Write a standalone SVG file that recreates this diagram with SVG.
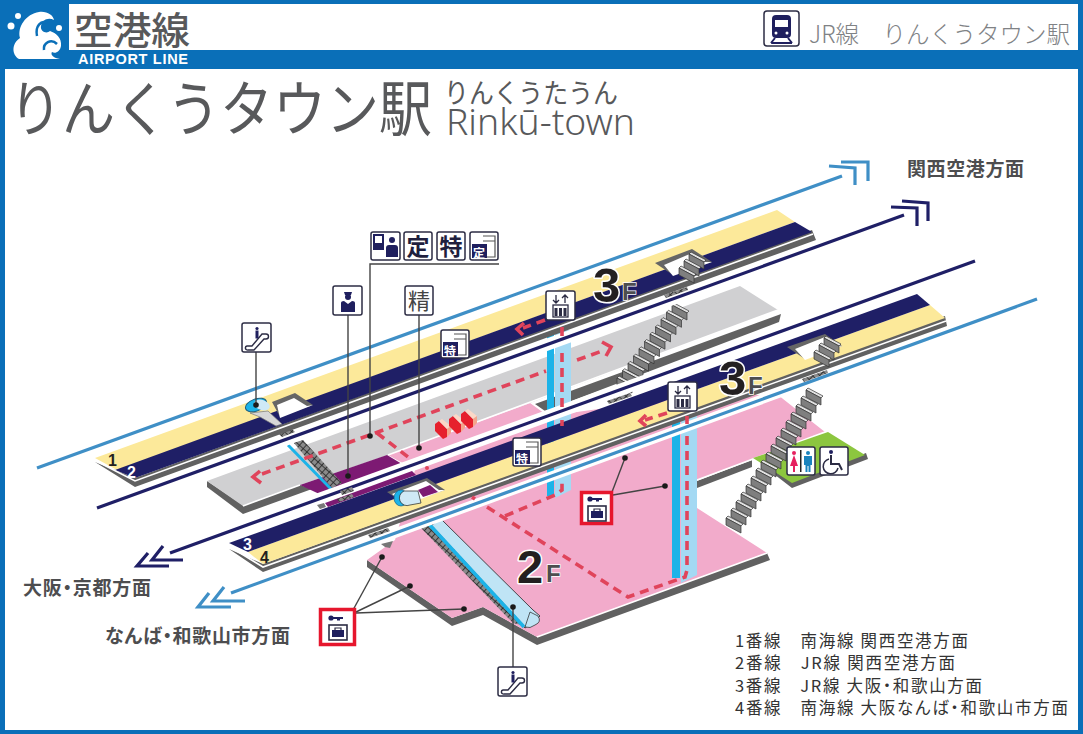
<svg xmlns="http://www.w3.org/2000/svg" xmlns:xlink="http://www.w3.org/1999/xlink" width="1083" height="734" viewBox="0 0 1083 734">
<style>
text{font-family:"Noto Sans CJK JP","Noto Sans",sans-serif}
.lat{font-family:"Liberation Sans",Arial,sans-serif}
.g{fill:#58595b}
.dir{fill:#4d4d4f;font-size:19px;font-weight:700;font-feature-settings:"palt"}
.leg{fill:#333;font-size:16.5px;font-feature-settings:"palt"}
.ic{fill:#fff;stroke:#2c2c44;stroke-width:1.5}
.nv{fill:#1f1f5e}
.sh{fill:#616161}
.wl{fill:none;stroke:#fff;stroke-width:1.6}
.ln{fill:none;stroke:#444;stroke-width:1.4}
.nav{fill:none;stroke:#1f1f66;stroke-width:3.2}
.bl{fill:none;stroke:#3f8fc6;stroke-width:3.2}
.halo{fill:none;stroke:#fff;stroke-width:12}
.halo2{fill:none;stroke:#fff;stroke-width:9.500}
.red{fill:none;stroke:#e0445b;stroke-width:3.6;stroke-dasharray:9 6}
.rh{fill:none;stroke:#e0445b;stroke-width:3.6}
.fl{font-weight:700;fill:#231f20;stroke:#fff;stroke-width:3;paint-order:stroke;stroke-linejoin:round}
.ff{font-weight:700;fill:#4d4d4f;stroke:#fff;stroke-width:1.500;paint-order:stroke}
.num{font-size:16px;font-weight:700}
</style>
<defs>
<g id="step"><polygon points="0,0 15,8 17,6 2,-2" fill="#e2e2e2" stroke="#333" stroke-width=".7"/><polygon points="0,0 15,8 15,15 0,7" fill="#7f7f7f" stroke="#333" stroke-width=".7"/></g>
<pattern id="hatch" width="5" height="5" patternUnits="userSpaceOnUse" patternTransform="rotate(42)"><rect width="5" height="5" fill="#8a8a8a"/><path d="M0 0H5M0 0V5" stroke="#222" stroke-width="1.600"/></pattern>
<g id="dot"><circle r="2.800" fill="#1a1a1a"/></g>
<g id="gate"><polygon points="0,4 4,1 12,9 12,17 8,19 0,11" fill="#e6202d"/><polygon points="4,1 7,-1 16,6 12,9" fill="#fbd8c8"/><polygon points="12,9 16,6 16,13 12,17" fill="#f4a58c"/></g>
<g id="esc"><rect class="ic" width="29" height="29" rx="2"/><path d="M5 23h5l10-12h4a2.500 2.500 0 0 1 0 5h-2L12 27H6a2 2 0 0 1-1-4z" fill="none" stroke="#2c2c44" stroke-width="1.400"/><circle cx="15" cy="5.500" r="1.600" class="nv"/><rect x="13.500" y="7.500" width="3" height="8" class="nv"/></g>
<g id="win"><rect class="ic" width="28" height="28" rx="2"/><path d="M13 4H25V25H13M13 9H25" fill="none" stroke="#555" stroke-width="1.200"/><rect x="2" y="12" width="15" height="14" class="nv"/></g>
<g id="ev"><rect class="ic" width="29" height="29" rx="2"/><path d="M10 4v8M7 9l3 3 3-3M19 12V4M16 7l3-3 3 3" fill="none" stroke="#2c2c44" stroke-width="1.300"/><rect x="7" y="14" width="15" height="12" fill="#fff" stroke="#2c2c44" stroke-width="1.300"/><path d="M10 17v8M14.500 17v8M19 17v8" stroke="#2c2c44" stroke-width="3"/></g>
<g id="lock"><rect x="7" y="13" width="18" height="15" fill="#fff" stroke="#2c2c44" stroke-width="1.600"/><rect x="10" y="18" width="12" height="7" class="nv"/><path d="M13 18v-2h6v2" fill="none" stroke="#2c2c44" stroke-width="1.200"/><circle cx="9" cy="6" r="2.600" class="nv"/><path d="M10 5h11v2h-3v1.500h-3V7h-5z" class="nv"/></g>
</defs>

<rect width="1083" height="734" fill="#fff"/>

<g id="floors">
<polygon class="sh" points="697,481 752,460 752,467 697,488"/>
<polygon class="sh" points="868,459 792,488 770,471 775,468 792,481 866,453"/>
<polygon class="sh" points="770,560 537,645 483,615 452,626 367,567 367,560 452,618 483,607 537,637 767,553"/>
<polygon points="530,403 548,416 700,395 778,395 825,432 697,480 697,508 767,553 537,637 483,607 452,618 367,560 395,540 415,470 388,455" fill="#f2abcb"/>
<polyline class="wl" points="825,432 697,480"/>
<polyline class="wl" points="767,553 537,637"/>
<polygon points="753,458 828,432 865,455 792,483" fill="#8cc63f"/>
<polygon class="sh" points="207,487 243,514 312,489 330,500 330,495 300,485 243,505 207,481"/>
<polygon class="sh" points="535,404 781,314 779,322 545,411"/>
<polygon points="207,481 740,286 778,310 530,403 388,455 300,485 243,506" fill="#d0d0d2"/>
<polyline class="wl" points="243,506 300,485"/>
<polyline class="wl" points="388,455 778,310"/>
<polygon points="300,485 387,455 402,464 328,498" fill="#7d1a73"/>
</g>

<g id="elevators">
<rect x="547" y="330" width="7" height="166" fill="#1cb3e8"/><polygon points="555,330 571,330 571,490 555,498" fill="#a4d9f3"/>
<rect x="672" y="415" width="8" height="163" fill="#1cb3e8"/><polygon points="681,415 697,415 697,575 681,583" fill="#a4d9f3"/>
</g>

<g id="stairs">
<use xlink:href="#step" x="672" y="305"/><use xlink:href="#step" x="666.500" y="312.300"/><use xlink:href="#step" x="661" y="319.600"/><use xlink:href="#step" x="655.500" y="326.900"/><use xlink:href="#step" x="650" y="334.200"/><use xlink:href="#step" x="644.500" y="341.500"/><use xlink:href="#step" x="639" y="348.800"/><use xlink:href="#step" x="633.500" y="356.100"/><use xlink:href="#step" x="628" y="363.400"/><use xlink:href="#step" x="622.500" y="370.700"/><use xlink:href="#step" x="617" y="378"/>
<use xlink:href="#step" x="806" y="390"/><use xlink:href="#step" x="801" y="398"/><use xlink:href="#step" x="796" y="406"/><use xlink:href="#step" x="791" y="414"/><use xlink:href="#step" x="786" y="422"/><use xlink:href="#step" x="781" y="430"/><use xlink:href="#step" x="776" y="438"/><use xlink:href="#step" x="771" y="446"/><use xlink:href="#step" x="766" y="454"/><use xlink:href="#step" x="761" y="462"/><use xlink:href="#step" x="756" y="470"/><use xlink:href="#step" x="751" y="478"/><use xlink:href="#step" x="746" y="486"/><use xlink:href="#step" x="741" y="494"/><use xlink:href="#step" x="736" y="502"/><use xlink:href="#step" x="731" y="510"/><use xlink:href="#step" x="726" y="518"/>
</g>

<g id="escalators">
<polygon points="293,442 303,440 342,483 332,488" fill="url(#hatch)"/>
<polyline points="288,445 331,489" fill="none" stroke="#1cb3e8" stroke-width="3"/>
<polygon points="431,526 440,518 533,610 540,616 533,623 525,628" fill="#bfe4f5" stroke="#222" stroke-width=".8"/>
<polygon points="421,528 429,522 525,626 513,623" fill="url(#hatch)"/>
<polyline points="427,522 524,627" fill="none" stroke="#1cb3e8" stroke-width="3.500"/>
<path d="M530 612 L538 616 Q542 622 535 625 Q530 629 525 627Z" fill="#bfe4f5" stroke="#222" stroke-width=".7"/>
</g>

<g id="connectors">
<polyline class="bl" points="37,468 842,176"/>
<polyline class="bl" points="829,166 855,168 855,185"/><polyline class="bl" points="841,162 868,162 868,181"/>
<polyline class="halo" points="97,508 904,215"/>
<polyline class="nav" points="97,508 904,215"/>
<polyline class="nav" points="891,207 917,208 917,226"/><polyline class="nav" points="902,201 928,203 928,221"/>
<polyline class="halo" points="975,261 170,553"/>
<polyline class="nav" points="975,261 170,553"/>
<polyline class="nav" points="163,546 152,560 183,560"/><polyline class="nav" points="148,553 137,566 169,566"/>
<polyline class="halo2" points="1037,299 231,593"/>
<polyline class="bl" points="1037,299 231,593"/>
<polyline class="bl" points="224,587 213,601 245,601"/><polyline class="bl" points="209,593 198,607 231,607"/>
</g>

<g id="floor-bits">
<polygon points="325,503 412,471 416,475 328,507" fill="#7d1a73"/>
<polygon points="317,505 324,503 326,507 320,509" fill="#777"/>
<polygon points="340,491 352,487 354,491 342,495" fill="url(#hatch)"/>
<polygon points="279,434 292,429 295,432 282,437" fill="url(#hatch)"/>
<polygon points="337,499 352,494 354,497 339,502" fill="url(#hatch)"/>
<polygon points="607,401 630,393 632,396 609,404" fill="url(#hatch)"/>
<polygon points="664,295 687,287 688,290 666,298" fill="url(#hatch)"/>
<polygon points="802,379 827,370 828,373 804,382" fill="url(#hatch)"/>
<polygon points="368,535 388,528 390,531 370,538" fill="url(#hatch)"/>
<polygon points="381,544 393,541 390,548 385,547" fill="#777"/>
</g>

<g id="platform-a">
<polygon class="sh" points="95,462 135,487 816,240 812,230 135,478"/>
<polygon points="95,458 777,210 795,222 117,470" fill="#fce99a"/>
<polygon points="115,470 795,222 812,232 135,478" fill="#1f1f66"/>
<polyline class="wl" points="96,461 135,481 813,234"/>
<polygon points="272,402 295,393 313,405 280,417" fill="#666"/>
<polygon points="277,405 294,398 307,406 313,405 280,418" fill="#fff"/>
<polygon points="655,263 692,249 712,262 673,275" fill="#666"/>
<polygon points="664,265 692,253 705,262 712,262 673,276" fill="#fff"/>
<use xlink:href="#step" x="689" y="254"/><use xlink:href="#step" x="684" y="261"/><use xlink:href="#step" x="679" y="268"/>
<polygon points="250,413 268,411 282,424 276,426 260,417" fill="#d7d7d7" stroke="#777" stroke-width=".7"/>
<ellipse cx="256" cy="405" rx="11" ry="6" fill="#1cb3e8" stroke="#1f5f80" transform="rotate(-20 256 405)"/>
<ellipse cx="262" cy="405" rx="8" ry="5" fill="#cfe9f6" transform="rotate(20 262 405)"/>
<text class="num lat" x="108" y="466" fill="#231f20">1</text>
<text class="num lat" x="127" y="478" fill="#fff">2</text>
</g>

<g id="platform-b">
<polygon class="sh" points="229,549 263,572 947,326 945,316 263,564"/>
<polygon points="248,552 930,305 945,318 263,564" fill="#fce99a"/>
<polygon points="229,543 917,294 930,305 248,552" fill="#1f1f66"/>
<polyline class="wl" points="232,548 263,567 946,321"/>
<polygon points="387,492 427,478 445,490 405,504" fill="#666"/>
<polygon points="392,494 426,481 439,490 445,490 405,505" fill="#fff"/>
<polygon points="418,490 430,485 438,492 423,497" fill="#7d1a73"/>
<polygon points="787,347 825,334 842,346 805,359" fill="#666"/>
<polygon points="795,349 825,337 836,345 842,346 805,360" fill="#fff"/>
<use xlink:href="#step" x="824" y="338"/><use xlink:href="#step" x="819" y="345"/><use xlink:href="#step" x="814" y="352"/>
<text class="num lat" x="243" y="550" fill="#fff">3</text>
<text class="num lat" x="260" y="563" fill="#231f20">4</text>
<ellipse cx="401" cy="498" rx="7" ry="8" fill="#1cb3e8" stroke="#14608a" stroke-width=".7"/>
<path d="M404 491 L418 491 L421 503 L410 505 A7 7 0 0 1 404 491Z" fill="#cfe9f6" stroke="#222" stroke-width=".7"/>
</g>

<g id="routes">
<polyline class="red" points="262,474 546,371"/>
<polyline class="red" points="577,360 605,350"/>
<polyline class="rh" points="602,342 611,347 606,356"/>
<polyline class="red" points="377,433 412,460"/>
<circle cx="427" cy="468" r="2" fill="#e0445b"/>
<polyline class="rh" points="472,497 475,499"/>
<polyline class="red" points="487,507 628,597 685,577 687,570 687,435"/>
<polyline class="rh" points="687,424 687,416"/>
<polyline class="red" points="505,516 555,495 562,490 562,478"/>
<polyline class="red" points="562,426 562,420"/>
<polyline class="red" points="562,407 562,348"/>
<polyline class="red" points="562,336 562,325"/>
<polyline class="red" points="545,320 523,328"/>
<polyline class="rh" points="524,323 517,329 523,335"/>
<polyline class="red" points="667,413 645,420"/>
<polyline class="rh" points="646,415 640,421 646,426"/>
<polyline class="rh" points="260,471 253,477 261,483"/>
<use xlink:href="#gate" x="435" y="420"/><use xlink:href="#gate" x="449" y="415"/><use xlink:href="#gate" x="461" y="410"/>
</g>

<g id="leaders">
<polyline class="ln" points="370,437 370,264 499,264"/><use xlink:href="#dot" x="370" y="436"/>
<polyline class="ln" points="348,315 348,476"/><use xlink:href="#dot" x="348" y="476"/>
<polyline class="ln" points="419,315 419,448"/><use xlink:href="#dot" x="419" y="448"/>
<polyline class="ln" points="256,352 256,405"/><use xlink:href="#dot" x="256" y="405"/>
<polyline class="ln" points="513,667 513,607"/><use xlink:href="#dot" x="513" y="607"/>
<polyline class="ln" points="353,610 382,557"/><use xlink:href="#dot" x="382" y="557"/>
<polyline class="ln" points="356,612 410,586"/><use xlink:href="#dot" x="410" y="586"/>
<polyline class="ln" points="356,613 464,609"/><use xlink:href="#dot" x="464" y="609"/>
<polyline class="ln" points="612,492 625,458"/><use xlink:href="#dot" x="625" y="458"/>
<polyline class="ln" points="613,495 665,486"/><use xlink:href="#dot" x="665" y="486"/>
</g>

<g id="floor-labels">
<text class="lat fl" x="593" y="302" font-size="49">3</text><text class="lat ff" x="622" y="300" font-size="24">F</text>
<text class="lat fl" x="719" y="395" font-size="49">3</text><text class="lat ff" x="748" y="394" font-size="24">F</text>
<text class="lat fl" x="517" y="583" font-size="47">2</text><text class="lat ff" x="546" y="582" font-size="24">F</text>
</g>

<g id="icon-service"><rect class="ic" x="371" y="232" width="29" height="28" rx="2"/><rect x="374" y="235" width="9" height="14" fill="#fff" stroke="#1f1f5e" stroke-width="2"/><rect x="375" y="243" width="7" height="6" class="nv"/><circle cx="392" cy="240" r="3" class="nv"/><path d="M386 257v-9q0-3 3-3h6q3 0 3 3v9z" class="nv"/></g>
<g id="icon-tei"><rect class="ic" x="404" y="232" width="28" height="28" rx="2"/><text x="418" y="255" font-size="23" font-weight="700" fill="#1f1f3e" text-anchor="middle">定</text></g>
<g id="icon-toku"><rect class="ic" x="437" y="232" width="28" height="28" rx="2"/><text x="451" y="255" font-size="23" font-weight="700" fill="#1f1f3e" text-anchor="middle">特</text></g>
<g id="icon-teiwin"><use xlink:href="#win" x="470" y="232"/><text x="479" y="258" font-size="12" font-weight="700" fill="#fff" text-anchor="middle">定</text></g>
<g id="icon-staff"><rect class="ic" x="333" y="286" width="29" height="29" rx="2"/><path d="M344 292h8l-1 3h-6z" class="nv"/><circle cx="348" cy="297" r="3" class="nv"/><path d="M341 312v-9q0-2 3-2l4 3 4-3q3 0 3 2v9z" class="nv"/></g>
<g id="icon-sei"><rect class="ic" x="405" y="286" width="28" height="29" rx="2"/><text x="419" y="309" font-size="22" fill="#444" text-anchor="middle">精</text></g>
<g id="icon-esc1"><use xlink:href="#esc" x="242" y="323"/></g>
<g id="icon-esc2"><use xlink:href="#esc" x="498" y="667"/></g>
<g id="icon-tokuwin1"><use xlink:href="#win" x="441" y="330"/><text x="450" y="356" font-size="12" font-weight="700" fill="#fff" text-anchor="middle">特</text></g>
<g id="icon-tokuwin2"><use xlink:href="#win" x="513" y="438"/><text x="522" y="464" font-size="12" font-weight="700" fill="#fff" text-anchor="middle">特</text></g>
<g id="icon-ev1"><use xlink:href="#ev" x="546" y="291"/></g>
<g id="icon-ev2"><use xlink:href="#ev" x="668" y="382"/></g>
<g id="icon-wc"><rect class="ic" x="787" y="447" width="28" height="28" rx="2"/><circle cx="794" cy="453" r="2" fill="#e6205f"/><path d="M794 455l4 11h-3v6h-2v-6h-3z" fill="#e6205f"/><rect x="800" y="450" width="1.500" height="22" fill="#222"/><circle cx="808" cy="453" r="2" fill="#1a83bd"/><path d="M804 456h8v9h-1.500v7h-2v-6h-1v6h-2v-7H804z" fill="#1a83bd"/></g>
<g id="icon-acc"><rect class="ic" x="820" y="447" width="28" height="28" rx="2"/><circle cx="831" cy="452" r="2" class="nv"/><path d="M831 455v9h8l3 6" fill="none" stroke="#2c2c44" stroke-width="2"/><path d="M829 459a7.500 7.500 0 1 0 9 9" fill="none" stroke="#2c2c44" stroke-width="1.500"/></g>
<g id="icon-locker1"><rect x="581.500" y="492.500" width="30" height="31" fill="#fff" stroke="#e6162d" stroke-width="3.500"/><use xlink:href="#lock" x="581" y="493"/></g>
<g id="icon-locker2"><rect x="320.500" y="609.500" width="34" height="35" fill="#fff" stroke="#e6162d" stroke-width="3.500"/><use xlink:href="#lock" x="322" y="612"/></g>

<g id="header">
<rect x="0" y="0" width="1083" height="4" fill="#0a6fb8"/>
<rect x="0" y="0" width="5" height="734" fill="#0a6fb8"/>
<rect x="1078" y="0" width="5" height="734" fill="#0a6fb8"/>
<rect x="0" y="730" width="1083" height="4" fill="#0a6fb8"/>
<rect x="0" y="0" width="69" height="69" fill="#0a6fb8"/>
<rect x="0" y="50" width="1083" height="19" fill="#0a6fb8"/>
<g id="logo" fill="#fff">
<path d="M19 59C12 55 11 44 20 38C17 27 26 14 39 12C47 11 53 15 54 20C48 17 42 20 41 26C40 32 47 34 50 31C56 33 62 38 61 46C60 52 55 54 52 52C50 55 54 58 60 59Z"/>
<circle cx="18" cy="16" r="3"/><circle cx="11" cy="26" r="3.500"/><circle cx="59" cy="28" r="3"/>
<path d="M37 36C35 26 41 20 47 23" fill="none" stroke="#0a6fb8" stroke-width="2.500"/>
<path d="M44 50C43 43 51 38 57 44" fill="none" stroke="#0a6fb8" stroke-width="2.500"/>
</g>
<text id="line-ja" x="74" y="44" font-size="38" font-weight="500" class="g" textLength="116" lengthAdjust="spacingAndGlyphs">空港線</text>
<text id="line-en" class="lat" x="78" y="64" font-size="14.500" font-weight="700" fill="#fff" textLength="110">AIRPORT LINE</text>
<g id="icon-train"><rect class="ic" x="764" y="11" width="35" height="35" rx="3"/><rect x="772" y="15" width="19" height="23" rx="4" class="nv"/><rect x="775" y="20" width="13" height="7" fill="#fff"/><circle cx="776" cy="33" r="1.500" fill="#fff"/><circle cx="787" cy="33" r="1.500" fill="#fff"/><path d="M775 38l-4 5M788 38l4 5M771 43h21" stroke="#1f1f5e" stroke-width="2" fill="none"/></g>
<text x="809" y="43" font-size="24" font-weight="300" fill="#808285" textLength="261" lengthAdjust="spacingAndGlyphs" xml:space="preserve">JR線　りんくうタウン駅</text>
</g>

<g id="title">
<text x="9" y="131" font-size="60" class="g" textLength="423" lengthAdjust="spacingAndGlyphs">りんくうタウン駅</text>
<text x="444" y="103" font-size="27" class="g" textLength="174" lengthAdjust="spacingAndGlyphs">りんくうたうん</text>
<text x="446" y="135" font-size="36" font-weight="300" class="g" style="font-family:'Noto Sans',sans-serif" textLength="189" lengthAdjust="spacingAndGlyphs">Rinkū-town</text>
</g>

<g id="direction-labels">
<text class="dir" x="907" y="176" textLength="117">関西空港方面</text>
<text class="dir" x="23" y="595" textLength="128">大阪・京都方面</text>
<text class="dir" x="105" y="643" textLength="185">なんば・和歌山市方面</text>
</g>

<g id="legend">
<text class="leg" x="735" y="647" textLength="233" xml:space="preserve">1番線　南海線 関西空港方面</text>
<text class="leg" x="735" y="669" textLength="220" xml:space="preserve">2番線　JR線 関西空港方面</text>
<text class="leg" x="735" y="692" textLength="247" xml:space="preserve">3番線　JR線 大阪・和歌山方面</text>
<text class="leg" x="735" y="714" textLength="333" xml:space="preserve">4番線　南海線 大阪なんば・和歌山市方面</text>
</g>
</svg>
